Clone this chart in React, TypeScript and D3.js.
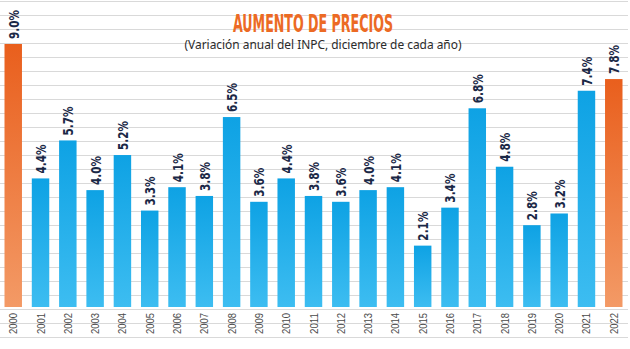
import React from "react";
import * as d3 from "d3";

const years = ["2000","2001","2002","2003","2004","2005","2006","2007","2008","2009","2010","2011","2012","2013","2014","2015","2016","2017","2018","2019","2020","2021","2022"];
const values = [9.0,4.4,5.7,4.0,5.2,3.3,4.1,3.8,6.5,3.6,4.4,3.8,3.6,4.0,4.1,2.1,3.4,6.8,4.8,2.8,3.2,7.4,7.8];
const highlighted = ["2000","2022"];
const title = "AUMENTO DE PRECIOS";
const subtitle = "(Variación anual del INPC, diciembre de cada año)";

const W = 630, H = 349;

export default function App() {
  const x = d3.scaleBand<string>().domain(years).range([4.5, 622.5]).paddingInner(0.36).paddingOuter(0);
  const y = d3.scaleLinear().domain([0, 9]).range([307, 44]);
  const pxStep = 14;
  const gridYs = d3.range(1, H, pxStep);
  const fmt = (v: number) => v.toFixed(1) + "%";
  return (
    <div style={{ position: "absolute", left: 0, top: 0 }}>
      <svg width={W} height={H} style={{ display: "block", background: "#fff" }}>
        <defs>
          <linearGradient id="gBlue" x1="0" y1="0" x2="0" y2="1">
            <stop offset="0" stopColor="#0ea2e4" />
            <stop offset="1" stopColor="#3dbdf1" />
          </linearGradient>
          <linearGradient id="gOrange" x1="0" y1="0" x2="0" y2="1">
            <stop offset="0" stopColor="#e95f1d" />
            <stop offset="1" stopColor="#f39a66" />
          </linearGradient>
        </defs>
        {gridYs.map((gy, i) => (
          <line key={i} x1={0} x2={628} y1={gy + 0.5} y2={gy + 0.5} stroke="#d9d9d9" strokeWidth={1} />
        ))}
        <text x={313} y={32} textAnchor="middle" fill="#ec6a24" fontFamily="'Liberation Sans Narrow', 'DejaVu Sans Condensed', sans-serif" fontWeight="bold" fontSize={24} textLength={160} lengthAdjust="spacingAndGlyphs">{title}</text>
        <text x={323} y={49} textAnchor="middle" fill="#2b2b2b" fontFamily="'Noto Sans', sans-serif" fontSize={12} textLength={277} lengthAdjust="spacingAndGlyphs">{subtitle}</text>
        {years.map((yr, i) => {
          const bx = x(yr)!;
          const bw = x.bandwidth();
          const v = values[i];
          const top = y(v);
          const cx = bx + bw / 2;
          const hl = highlighted.includes(yr);
          return (
            <g key={yr}>
              <rect x={bx} y={top} width={bw} height={y(0) - top} fill={hl ? "url(#gOrange)" : "url(#gBlue)"} />
              <text transform={`translate(${cx + 0.5},${top - 5}) rotate(-90)`} textAnchor="start" dominantBaseline="central" fill="#1a2846" fontFamily="'DejaVu Sans Condensed', 'Liberation Sans Narrow', sans-serif" fontWeight="bold" fontSize={14} textLength={29} lengthAdjust="spacingAndGlyphs">{fmt(v)}</text>
              <text transform={`translate(${cx},${313}) rotate(-90)`} textAnchor="end" dominantBaseline="central" fill="#4a4a4a" fontFamily="'Liberation Sans', Arial, sans-serif" fontSize={10.5} textLength={21} lengthAdjust="spacingAndGlyphs">{yr}</text>
            </g>
          );
        })}
      </svg>
    </div>
  );
}
